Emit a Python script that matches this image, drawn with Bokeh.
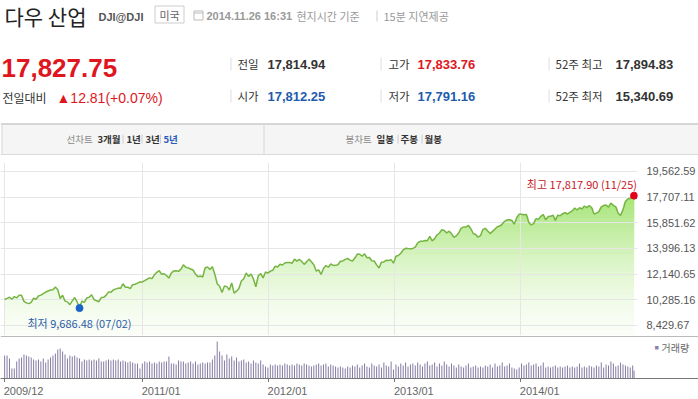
import numpy as np
import pandas as pd
from bokeh.plotting import figure
from bokeh.models import Range1d, FixedTicker, NumeralTickFormatter, Span, Label
from bokeh.core.properties import value
from bokeh.embed import file_html
from bokeh.resources import INLINE

# ---------------- data ----------------
week_dates = list(pd.date_range("2009-11-27", "2014-11-21", freq="W-FRI")) + [pd.Timestamp("2014-11-25")]

close = [
    10309.92, 10388.90, 10471.50, 10328.89, 10520.10, 10428.05, 10618.19, 10609.65, 10172.98, 10067.33,
    10012.23, 10099.14, 10402.35, 10325.26, 10566.20, 10624.69, 10741.98, 10850.36, 10927.07, 10997.35,
    11018.66, 11204.28, 11008.61, 10380.43, 10620.16, 10193.39, 10136.63, 9931.97, 10211.07, 10450.64,
    10143.81, 9686.48, 10198.03, 10097.90, 10424.62, 10465.94, 10653.56, 10303.15, 10213.62, 10150.65,
    10447.93, 10462.77, 10607.85, 10860.26, 10829.68, 11006.48, 11062.78, 11132.56, 11118.49, 11444.08,
    11192.58, 11203.55, 11092.00, 11382.09, 11410.32, 11491.91, 11573.49, 11577.51, 11674.76, 11787.38,
    11871.84, 11823.70, 12092.15, 12273.26, 12391.25, 12130.45, 12169.88, 12044.40, 11858.52, 12220.59,
    12376.72, 12380.05, 12341.83, 12505.99, 12810.54, 12638.74, 12595.75, 12512.04, 12441.58, 12151.26,
    11951.91, 12004.36, 11934.58, 12582.77, 12657.20, 12479.73, 12681.16, 12143.24, 11444.61, 11269.02,
    10817.65, 11284.54, 11240.26, 10992.13, 11509.09, 10771.48, 10913.38, 11103.12, 11644.49, 11808.79,
    12231.11, 11983.24, 12153.68, 11796.16, 11231.78, 12019.42, 12184.26, 11866.39, 12294.00, 12217.56,
    12359.92, 12422.06, 12720.48, 12660.46, 12862.23, 12801.23, 12949.87, 12982.95, 12977.57, 12922.02,
    13232.62, 13080.73, 13212.04, 13060.14, 12849.59, 13029.26, 13228.31, 13038.27, 12820.60, 12369.38,
    12454.83, 12118.57, 12554.20, 12767.17, 12640.78, 12880.09, 12772.47, 12777.09, 12822.57, 13075.66,
    13096.17, 13207.95, 13275.20, 13157.97, 13090.84, 13306.64, 13593.37, 13579.47, 13437.13, 13610.15,
    13328.85, 13343.51, 13107.21, 13093.16, 12815.39, 12588.31, 13009.68, 13025.58, 13155.13, 13135.01,
    13190.84, 12938.11, 13435.21, 13488.43, 13649.70, 13895.98, 14009.79, 13992.97, 13981.76, 14000.57,
    14089.66, 14397.07, 14514.11, 14512.03, 14578.54, 14565.25, 14865.06, 14547.51, 14712.55, 14973.96,
    15118.49, 15354.40, 15303.10, 15115.57, 15248.12, 15070.18, 14799.40, 14909.60, 15135.84, 15464.30,
    15543.74, 15558.83, 15658.36, 15425.51, 15081.47, 15010.51, 14810.31, 14922.50, 15376.06, 15451.09,
    15258.24, 15072.58, 15237.11, 15399.65, 15570.28, 15615.55, 15761.78, 15961.70, 16064.77, 16086.41,
    16020.20, 15755.36, 16221.14, 16478.41, 16469.99, 16437.05, 16458.56, 15879.11, 15698.85, 15794.08,
    16154.39, 16103.30, 16321.71, 16452.72, 16065.67, 16302.77, 16323.06, 16412.71, 16026.75, 16408.54,
    16361.46, 16512.89, 16583.34, 16491.31, 16606.27, 16717.17, 16924.28, 16775.74, 16947.08, 16851.84,
    17068.26, 16943.81, 17100.18, 16960.57, 16493.37, 16553.93, 16662.91, 17001.22, 17098.45, 17137.36,
    16987.51, 17279.74, 17113.15, 17009.69, 16544.10, 16380.41, 16805.41, 17390.52, 17573.93, 17634.74,
    17810.06, 17817.90,
]

volume = [
    230, 230, 200, 100, 100, 170, 200, 210, 240, 230,
    220, 210, 190, 180, 190, 170, 200, 160, 190, 210,
    230, 250, 290, 300, 270, 240, 200, 230, 220, 230,
    210, 200, 170, 190, 180, 190, 180, 190, 180, 200,
    170, 170, 180, 190, 180, 190, 180, 190, 170, 180,
    170, 160, 170, 160, 150, 150, 100, 150, 170, 160,
    170, 150, 160, 150, 170, 160, 170, 170, 220, 150,
    150, 140, 180, 170, 170, 150, 160, 170, 150, 170,
    140, 150, 160, 150, 160, 160, 190, 230, 370, 270,
    230, 180, 240, 200, 220, 180, 210, 170, 180, 190,
    160, 170, 150, 180, 160, 150, 180, 140, 120, 110,
    140, 130, 140, 130, 140, 130, 150, 140, 130, 140,
    130, 150, 140, 130, 150, 140, 130, 120, 130, 140,
    150, 130, 140, 150, 120, 140, 130, 120, 110, 120,
    110, 100, 120, 110, 130, 120, 140, 110, 130, 150,
    120, 110, 150, 130, 120, 140, 110, 160, 130, 120,
    170, 90, 140, 120, 150, 130, 160, 120, 140, 150,
    130, 160, 140, 120, 150, 170, 130, 140, 160, 120,
    150, 130, 170, 140, 120, 150, 130, 110, 140, 120,
    110, 130, 150, 110, 120, 130, 110, 120, 110, 130,
    120, 140, 110, 150, 120, 130, 160, 120, 130, 150,
    110, 100, 90, 110, 150, 130, 140, 160, 130, 140,
    150, 120, 130, 160, 110, 120, 110, 120, 130, 110,
    120, 110, 120, 130, 110, 120, 110, 120, 150, 110,
    120, 110, 130, 120, 110, 130, 120, 160, 110, 140,
    130, 170, 150, 120, 130, 160, 140, 130, 120, 110,
    130, 80,
]

price_ticks = [8429.67, 10285.16, 12140.65, 13996.13, 15851.62, 17707.11, 19562.59]
date_ticks = ["2009-11-27", "2011-01-01", "2012-01-01", "2013-01-01", "2014-01-01"]
date_tick_labels = ["2009/12", "2011/01", "2012/01", "2013/01", "2014/01"]

title_name = "다우 산업"
title_code = "DJI@DJI"
title_country = "미국"
title_time = "2014.11.26 16:31"
title_time_note = "현지시간 기준"
title_delay = "15분 지연제공"
last_price = "17,827.75"
change_label = "전일대비"
change_text = "▲12.81(+0.07%)"
stat_labels = ["전일", "시가", "고가", "저가", "52주 최고", "52주 최저"]
stat_values = ["17,814.94", "17,812.25", "17,833.76", "17,791.16", "17,894.83", "15,340.69"]
tab_line = ["선차트", "3개월", "1년", "3년", "5년"]
tab_candle = ["봉차트", "일봉", "주봉", "월봉"]
volume_legend = "거래량"

assert len(week_dates) == len(close) == len(volume)

KR = "Noto Sans CJK KR"
LAT = "Liberation Sans"
RED = "#e0161e"
BLUE = "#1f5bab"
W = 698
FRAME_W = 637


def txt(fig, x, y, s, size, color, font=KR, bold=False, align="left"):
    fig.text(x=[x], y=[y], text=[s], text_font=value(font), text_font_size=f"{size}px",
             text_color=color, text_font_style="bold" if bold else "normal",
             text_align=align, text_baseline="middle")


# ---------------- header ----------------
HH = 158
h = figure(width=W, height=HH, x_range=Range1d(0, W), y_range=Range1d(HH, 0),
           output_backend="svg", toolbar_location=None, x_axis_location=None,
           y_axis_location=None, min_border=0, outline_line_color=None)
h.xgrid.visible = False
h.ygrid.visible = False

txt(h, 4, 15.5, title_name, 21, "#222222")
txt(h, 98, 16.5, title_code, 11, "#555555", font=LAT, bold=True)
h.quad(left=[154.5], right=[183.5], top=[5.5], bottom=[22.5], fill_color="white", line_color="#cccccc")
txt(h, 169, 14.5, title_country, 11, "#666666", align="center")
h.quad(left=[193.5], right=[202.5], top=[10.5], bottom=[19.5], fill_color=None, line_color="#bbbbbb")
h.segment(x0=[193.5], y0=[12.5], x1=[202.5], y1=[12.5], line_color="#bbbbbb")
txt(h, 206, 15.5, title_time, 11, "#999999", font=LAT, bold=True)
txt(h, 296, 15, title_time_note, 11, "#999999")
h.segment(x0=[376.5], y0=[10], x1=[376.5], y1=[21], line_color="#cccccc")
txt(h, 383, 15, title_delay, 11, "#999999")

txt(h, 1, 67, last_price, 26, RED, font=LAT, bold=True)
txt(h, 2, 97, change_label, 12, "#333333")
txt(h, 56, 97.5, change_text, 14, RED, font=LAT)

sep_x = [230.5, 380.5, 548.5]
for sx in sep_x:
    h.segment(x0=[sx, sx], y0=[57, 89], x1=[sx, sx], y1=[70, 102], line_color="#dddddd")
lab_x = [237, 237, 388, 388, 555, 555]
val_x = [267, 267, 417, 417, 615, 615]
row_y = [63.5, 95.5, 63.5, 95.5, 63.5, 95.5]
val_col = ["#333333", BLUE, RED, BLUE, "#333333", "#333333"]
for lx, vx, ry, lab, val, vc in zip(lab_x, val_x, row_y, stat_labels, stat_values, val_col):
    txt(h, lx, ry, lab, 11.5, "#333333")
    txt(h, vx, ry + 0.5, val, 13, vc, font=LAT, bold=True)

# tab bar
h.quad(left=[0.5], right=[698], top=[123], bottom=[154], fill_color="#f5f5f5", line_color=None)
h.segment(x0=[0], y0=[123.5], x1=[698], y1=[123.5], line_color="#b5b5b5")
h.segment(x0=[0], y0=[154], x1=[698], y1=[154], line_color="#dadada")
h.segment(x0=[1.5], y0=[123], x1=[1.5], y1=[154], line_color="#dadada")
h.segment(x0=[263.5], y0=[123], x1=[263.5], y1=[154], line_color="#d6d6d6")
tab_y = 138.5
tl_x = [66, 97, 126, 145, 163]
tl_col = ["#888888", "#333333", "#333333", "#333333", "#2d5bb9"]
for i, (tx, s, col) in enumerate(zip(tl_x, tab_line, tl_col)):
    txt(h, tx, tab_y, s, 9.5, col, bold=(i > 0))
for sx in [122.5, 141.5, 160]:
    h.segment(x0=[sx], y0=[134], x1=[sx], y1=[143], line_color="#cccccc")
tc_x = [345, 376, 400, 424]
tc_col = ["#888888", "#333333", "#333333", "#333333"]
for i, (tx, s, col) in enumerate(zip(tc_x, tab_candle, tc_col)):
    txt(h, tx, tab_y, s, 9.5, col, bold=(i > 0))
for sx in [397.5, 421.5]:
    h.segment(x0=[sx], y0=[134], x1=[sx], y1=[143], line_color="#cccccc")

# ---------------- price chart ----------------
xs = np.array(week_dates, dtype="datetime64[ns]")
cl = np.array(close, dtype=float)
vol = np.array(volume, dtype=float)
x_start = week_dates[0] - pd.Timedelta(days=12)
x_end = week_dates[-1] + pd.Timedelta(days=10)
y_lo, y_hi = 7706.75, 20213.2

c = figure(width=W, height=177, x_axis_type="datetime", x_range=Range1d(x_start, x_end),
           y_range=Range1d(y_lo, y_hi), x_axis_location=None, y_axis_location="right",
           output_backend="svg", toolbar_location=None, min_border_left=0,
           min_border_right=W - FRAME_W, min_border_top=4, min_border_bottom=0,
           outline_line_color=None)

tick_ms = [pd.Timestamp(d).value / 1e6 for d in date_ticks]
c.xgrid.ticker = FixedTicker(ticks=tick_ms)
c.xgrid.grid_line_color = "#e6e6e6"
c.ygrid.grid_line_color = "#e6e6e6"
c.yaxis.ticker = FixedTicker(ticks=price_ticks)
c.yaxis.formatter = NumeralTickFormatter(format="0,0.00")
c.yaxis.axis_line_color = None
c.yaxis.major_tick_line_color = None
c.yaxis.minor_tick_line_color = None
c.yaxis.major_label_text_font = LAT
c.yaxis.major_label_text_font_size = "11px"
c.yaxis.major_label_text_color = "#555555"
c.yaxis.major_label_standoff = 3

# gradient fill under the line (stacked bands)
n_bands = 32
levels = np.linspace(y_lo, cl.max(), n_bands)
c_bot = np.array([250, 254, 247])
c_top = np.array([168, 230, 120])
for k, lv in enumerate(levels[:-1]):
    t = (k / (n_bands - 2)) ** 1.5
    rgb = (c_bot + (c_top - c_bot) * t).astype(int)
    col = "#%02x%02x%02x" % tuple(rgb)
    r = c.varea(x=xs, y1=np.full_like(cl, lv), y2=np.maximum(cl, lv), fill_color=col)
    r.level = "image"

c.line(xs, cl, line_color="#76b443", line_width=1.5)

i_lo = int(np.argmin(cl))
i_hi = int(np.argmax(cl))
lo_text = f"최저 {cl[i_lo]:,.2f} ({pd.Timestamp(xs[i_lo]):%m/%d})"
hi_text = f"최고 {cl[i_hi]:,.2f} ({pd.Timestamp(xs[i_hi]):%m/%d})"
c.scatter([xs[i_lo]], [cl[i_lo]], size=7, color="#1b62c9")
c.scatter([xs[i_hi]], [cl[i_hi]], size=7, color="#e3001b")
c.text(x=[xs[i_lo]], y=[cl[i_lo]], text=[lo_text], y_offset=15, text_align="center",
       text_baseline="middle", text_font=value(KR), text_font_size="11px", text_color="#2a5ca8")
c.text(x=[xs[i_hi]], y=[cl[i_hi]], text=[hi_text], x_offset=3, y_offset=-12, text_align="right",
       text_baseline="middle", text_font=value(KR), text_font_size="11px", text_color="#c8161e")

# ---------------- volume ----------------
x_end_full = x_start + (x_end - x_start) * (W / FRAME_W)
vol_x = Range1d(x_start, x_end_full)
v = figure(width=W, height=47, x_axis_type="datetime", x_range=vol_x,
           y_range=Range1d(0, 420), y_axis_location=None, output_backend="svg",
           toolbar_location=None, min_border_left=0, min_border_right=0, min_border_top=1,
           min_border_bottom=4, outline_line_color=None)
v.xgrid.visible = False
v.ygrid.visible = False
v.segment(x0=xs, y0=np.zeros_like(vol), x1=xs, y1=vol, line_color="#857ba3", line_width=1)
v.xaxis.ticker = FixedTicker(ticks=tick_ms)
v.xaxis.major_label_overrides = {t: "" for t in tick_ms}
v.xaxis.major_label_text_font_size = "0px"
v.xaxis.major_label_standoff = 0
v.xaxis.axis_line_color = "#777777"
v.xaxis.major_tick_line_color = "#777777"
v.xaxis.major_tick_out = 4
v.xaxis.major_tick_in = 0
v.xaxis.minor_tick_line_color = None
v.add_layout(Span(location=420, dimension="width", line_color="#777777", line_width=1))
v.add_layout(Label(x=654, y=31, x_units="screen", y_units="screen", text="■",
                   text_font_size="7px", text_color="#8a80a6", text_baseline="middle"))
v.add_layout(Label(x=661, y=31, x_units="screen", y_units="screen", text=volume_legend,
                   text_font=KR, text_font_size="10px", text_color="#666666",
                   text_baseline="middle"))

# date labels strip (left-aligned at each tick date, as in the reference)
d = figure(width=W, height=17, x_axis_type="datetime", x_range=vol_x, y_range=Range1d(0, 1),
           x_axis_location=None, y_axis_location=None, output_backend="svg",
           toolbar_location=None, min_border=0, outline_line_color=None)
d.xgrid.visible = False
d.ygrid.visible = False
d.text(x=[pd.Timestamp(t) for t in date_ticks], y=[0.5] * len(date_ticks), text=date_tick_labels,
       x_offset=-1, text_align="left", text_baseline="middle", text_font=value(LAT),
       text_font_size="11px", text_color="#666666")

open("out.html", "w").write(file_html([h, c, v, d], INLINE))
